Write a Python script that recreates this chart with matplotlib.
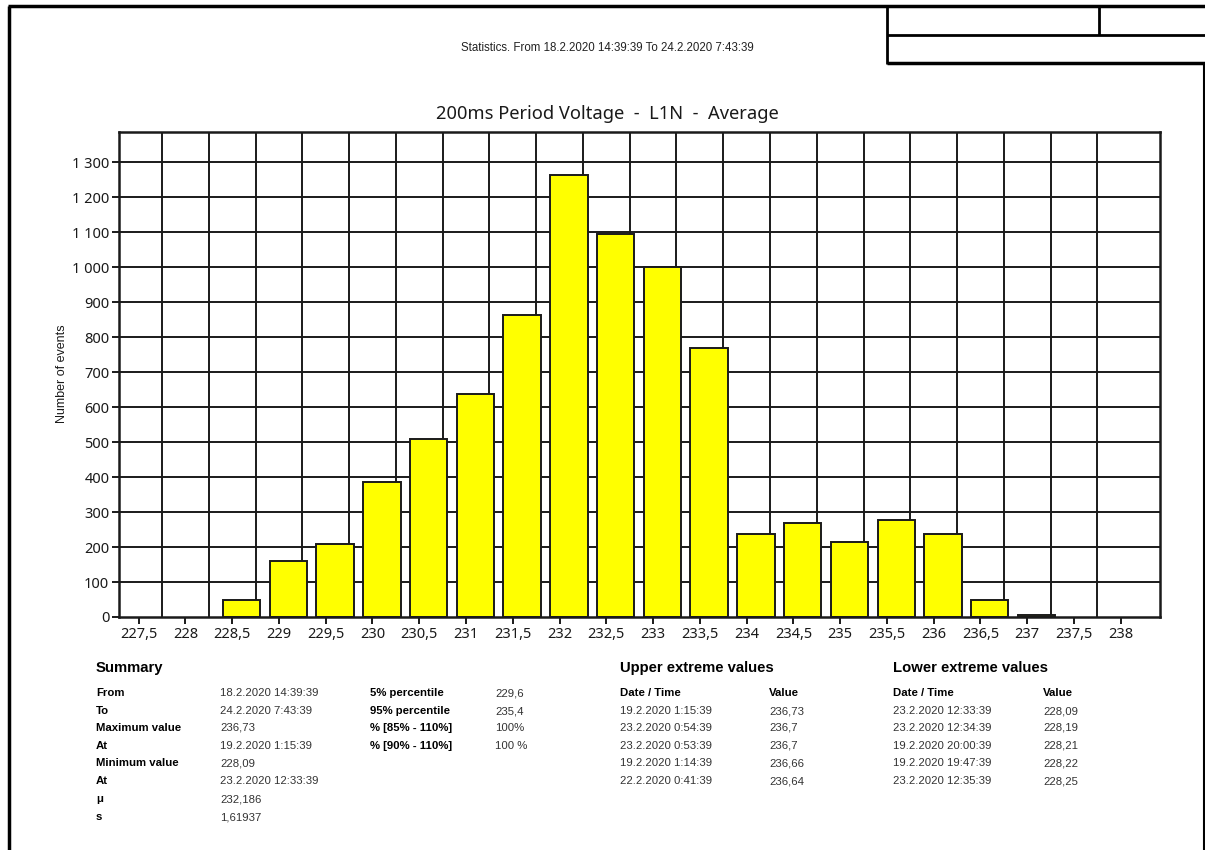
import matplotlib
matplotlib.use("Agg")
import matplotlib.pyplot as plt
from matplotlib.lines import Line2D

# ---------------- data ----------------
voltage_bins = [227.5, 228, 228.5, 229, 229.5, 230, 230.5, 231, 231.5, 232, 232.5,
                233, 233.5, 234, 234.5, 235, 235.5, 236, 236.5, 237, 237.5, 238]
event_counts = [0, 0, 50, 160, 210, 386, 508, 637, 864, 1262, 1094,
                999, 770, 238, 268, 215, 278, 236, 48, 5, 0, 0]
x_tick_labels = ["227,5", "228", "228,5", "229", "229,5", "230", "230,5", "231", "231,5",
                 "232", "232,5", "233", "233,5", "234", "234,5", "235", "235,5", "236",
                 "236,5", "237", "237,5", "238"]
y_ticks = [0, 100, 200, 300, 400, 500, 600, 700, 800, 900, 1000, 1100, 1200, 1300]
y_tick_labels = ["0", "100", "200", "300", "400", "500", "600", "700", "800", "900",
                 "1 000", "1 100", "1 200", "1 300"]

title = "200ms Period Voltage  -  L1N  -  Average"
header = "Statistics. From 18.2.2020 14:39:39 To 24.2.2020 7:43:39"
y_label = "Number of events"

summary_labels = ["From", "To", "Maximum value", "At", "Minimum value", "At", "\u03bc", "s"]
summary_values = ["18.2.2020 14:39:39", "24.2.2020 7:43:39", "236,73", "19.2.2020 1:15:39",
                  "228,09", "23.2.2020 12:33:39", "232,186", "1,61937"]
pct_labels = ["5% percentile", "95% percentile", "% [85% - 110%]", "% [90% - 110%]"]
pct_values = ["229,6", "235,4", "100%", "100 %"]

upper_times = ["19.2.2020 1:15:39", "23.2.2020 0:54:39", "23.2.2020 0:53:39",
               "19.2.2020 1:14:39", "22.2.2020 0:41:39"]
upper_values = ["236,73", "236,7", "236,7", "236,66", "236,64"]
lower_times = ["23.2.2020 12:33:39", "23.2.2020 12:34:39", "19.2.2020 20:00:39",
               "19.2.2020 19:47:39", "23.2.2020 12:35:39"]
lower_values = ["228,09", "228,19", "228,21", "228,22", "228,25"]

# ---------------- layout ----------------
W, H = 1205, 850
fig = plt.figure(figsize=(W / 100, H / 100), dpi=100)
fig.patch.set_facecolor("white")


def fx(x):
    return x / W


def fy(y):
    return 1 - y / H


AX_FONT = ["Noto Sans", "DejaVu Sans"]
SM_FONT = ["Liberation Sans", "DejaVu Sans"]
INK = "#1a1a1a"

ax = fig.add_axes([fx(119), fy(617), (1160 - 119) / W, (617 - 132) / H])
ax.set_xlim(227.29, 238.42)
ax.set_ylim(0, 1386)

# grid lines (bin edges and every 100 events)
for i in range(len(voltage_bins) - 1):
    ax.axvline(voltage_bins[i] + 0.25, color=INK, lw=1.4, zorder=1)
for yv in y_ticks[1:]:
    ax.axhline(yv, color=INK, lw=1.4, zorder=1)

ax.bar([v + 0.1 for v in voltage_bins], event_counts, width=0.4,
       color="#ffff00", edgecolor=INK,
       linewidth=[1.4 if c > 0 else 0 for c in event_counts], zorder=3)

ax.set_xticks(voltage_bins)
ax.set_xticklabels(x_tick_labels, fontfamily=AX_FONT, fontsize=10.5, color=INK)
ax.set_yticks(y_ticks)
ax.set_yticklabels(y_tick_labels, fontfamily=AX_FONT, fontsize=10.5, color=INK)
ax.tick_params(axis="both", direction="out", length=5, width=1.4, color=INK, pad=2)
for s in ax.spines.values():
    s.set_linewidth(1.8)
    s.set_color(INK)
    s.set_zorder(5)

fig.text(fx(607), fy(114), title, ha="center", va="center",
         fontfamily=AX_FONT, fontsize=13.2, color=INK)
fig.text(fx(62), fy(374), y_label, ha="center", va="center", rotation=90,
         fontfamily=SM_FONT, fontsize=9, color=INK)
fig.text(fx(607), fy(48), header, ha="center", va="center",
         fontfamily=SM_FONT, fontsize=8.3, color="#222222")

# ---------------- page frame ----------------
def line(x0, y0, x1, y1, lw=2.0):
    fig.add_artist(Line2D([fx(x0), fx(x1)], [fy(y0), fy(y1)], color="black",
                          lw=lw, solid_capstyle="butt"))


line(8, 6, 1205, 6, 2.5)
line(9, 6, 9, 850, 2.5)
line(1204, 63, 1204, 850, 1.5)
line(887, 6, 887, 64, 2.0)
line(887, 35, 1205, 35, 2.0)
line(887, 63, 1205, 63, 2.5)
line(1099, 6, 1099, 35, 2.0)

# ---------------- tables ----------------
row_y = [693, 711, 728, 746, 763, 781, 799, 817]
LBL = dict(fontfamily=SM_FONT, fontsize=8.2, fontweight="bold", color="black",
           va="center", ha="left")
VAL = dict(fontfamily=SM_FONT, fontsize=8.2, color="#333333", va="center", ha="left")
HDR = dict(fontfamily=SM_FONT, fontsize=10.7, fontweight="bold", color="black",
           va="center", ha="left")

fig.text(fx(96), fy(668), "Summary", **HDR)
for i, (lab, val) in enumerate(zip(summary_labels, summary_values)):
    fig.text(fx(96), fy(row_y[i]), lab, **LBL)
    fig.text(fx(220), fy(row_y[i]), val, **VAL)
for i, (lab, val) in enumerate(zip(pct_labels, pct_values)):
    fig.text(fx(370), fy(row_y[i]), lab, **LBL)
    fig.text(fx(495), fy(row_y[i]), val, **VAL)

for x0, xv, head, times, vals in [(620, 769, "Upper extreme values", upper_times, upper_values),
                                  (893, 1043, "Lower extreme values", lower_times, lower_values)]:
    fig.text(fx(x0), fy(668), head, **HDR)
    fig.text(fx(x0), fy(row_y[0]), "Date / Time", **LBL)
    fig.text(fx(xv), fy(row_y[0]), "Value", **LBL)
    for i, (t, v) in enumerate(zip(times, vals)):
        fig.text(fx(x0), fy(row_y[i + 1]), t, **VAL)
        fig.text(fx(xv), fy(row_y[i + 1]), v, **VAL)

fig.savefig("out.png", dpi=100, facecolor="white")
